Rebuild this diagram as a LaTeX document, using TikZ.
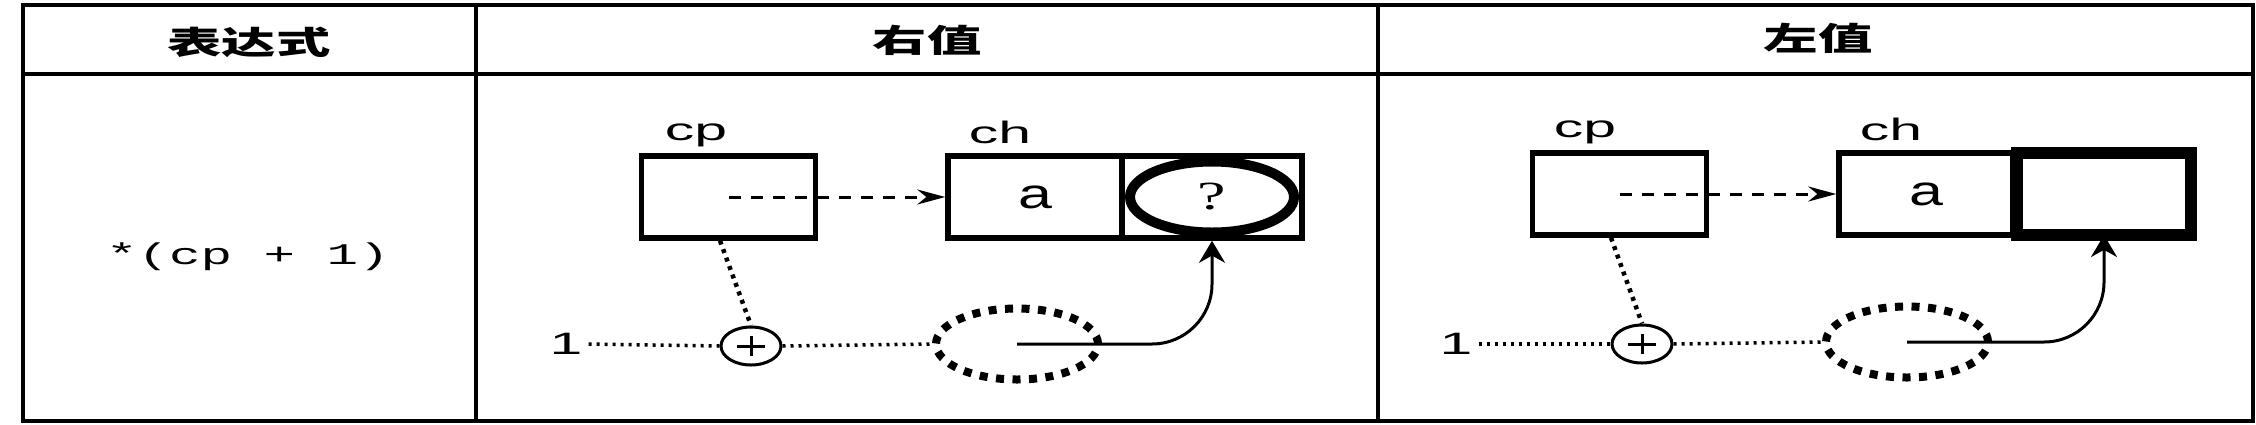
\documentclass[tikz,border=0pt]{standalone}
\usepackage{fontspec}
\usepackage{graphicx}
\usetikzlibrary{arrows.meta,shapes.geometric}
\setmainfont{Liberation Sans}
\newfontfamily\cjk{Noto Sans CJK SC}
\newfontfamily\monof{Liberation Mono}
\newfontfamily\seriff{Liberation Serif}
\newcommand{\hstretch}[2]{\scalebox{#1}[1]{#2}}
\tikzset{
  grid/.style={line width=4pt},
  hdr/.style={font=\cjk\bfseries\fontsize{32}{36}\selectfont, inner sep=0pt},
  cell/.style={draw, line width=5.5pt, minimum width=174pt, minimum height=82pt, inner sep=0pt},
  thickcell/.style={draw, line width=12pt, minimum width=174pt, minimum height=82pt, inner sep=0pt},
  lbl/.style={font=\fontsize{31}{34}\selectfont, inner sep=0pt},
  vallbl/.style={font=\fontsize{42}{46}\selectfont, inner sep=0pt},
  ptr/.style={dash pattern=on 12pt off 10pt, line width=3pt, -{Stealth[length=28pt,width=15pt]}},
  dotsline/.style={dash pattern=on 3pt off 5pt, line width=3.5pt},
  dotsbold/.style={dash pattern=on 4pt off 5pt, line width=4.5pt},
  plusnode/.style={draw, ellipse, line width=3pt, minimum width=60pt, minimum height=38pt, inner sep=0pt},
  tmpval/.style={draw, ellipse, dash pattern=on 8pt off 8.5pt, line width=8pt, minimum width=162pt, minimum height=71pt, inner sep=0pt},
  objell/.style={draw, ellipse, line width=10pt, minimum width=164pt, minimum height=71pt, inner sep=0pt,
                 font=\seriff\fontsize{40}{44}\selectfont},
  res/.style={line width=3pt, rounded corners=60pt, -{Stealth[length=22pt,width=26pt]}},
}
\begin{document}
\begin{tikzpicture}[x=1pt,y=-1pt]
\useasboundingbox (0,0) rectangle (2256,424);
% table
\draw[grid] (23,5) rectangle (2253,421);
\draw[grid] (23,74) -- (2253,74);
\draw[grid] (476,5) -- (476,421);
\draw[grid] (1378,5) -- (1378,421);
% headers
\node[hdr] (h1) at (249,42) {\hstretch{1.7}{表达式}};
\node[hdr] (h2) at (927,40) {\hstretch{1.7}{右值}};
\node[hdr] (h3) at (1818,38) {\hstretch{1.7}{左值}};
% expression
\node[inner sep=0pt, font=\monof\fontsize{30}{34}\selectfont] (expr) at (248,257) {\hstretch{1.75}{*(cp + 1)}};

% ---------- right value panel ----------
\node[cell] (cpA) at (728.5,197) {};
\node[lbl] (cplA) at (696,135) {\hstretch{1.9}{cp}};
\node[cell] (aA) at (1035,197) {};
\node[vallbl] (avA) at (aA.center) {\hstretch{1.45}{a}};
\node[cell, minimum width=180pt] (qA) at (1212,197) {};
\node[objell] (oeA) at (qA.center) {\hstretch{1.6}{?}};
\node[lbl] (chlA) at (1000,132) {\hstretch{1.9}{ch}};
\draw[ptr] (cpA.center) -- (aA.west);
\node[lbl] (oneA) at (566,344) {\hstretch{1.9}{1}};
\node[plusnode] (pA) at (751,346) {};
\draw[line width=3pt] ([xshift=-14pt]pA.center) -- ([xshift=14pt]pA.center);
\draw[line width=3pt] ([yshift=-10pt]pA.center) -- ([yshift=10pt]pA.center);
\node[tmpval] (tA) at (1017,344) {};
\draw[dotsline] ([xshift=6pt]oneA.east) -- (pA.west);
\draw[dotsline] (pA.east) -- (tA.west);
\draw[dotsbold] ([xshift=-8.5pt]cpA.south) -- (pA.north);
\draw[res] (tA.center) -| (qA.south);

% ---------- left value panel ----------
\begin{scope}[shift={(891,-3)}]
\node[cell] (cpB) at (728.5,197) {};
\node[lbl] (cplB) at (694,135) {\hstretch{1.9}{cp}};
\node[cell] (aB) at (1035,197) {};
\node[vallbl] (avB) at (aB.center) {\hstretch{1.45}{a}};
\node[thickcell] (qB) at (1213,197) {};
\node[lbl] (chlB) at (1000,132) {\hstretch{1.9}{ch}};
\draw[ptr] (cpB.center) -- (aB.west);
\node[lbl] (oneB) at (565,347) {\hstretch{1.9}{1}};
\node[plusnode] (pB) at (751,347) {};
\draw[line width=3pt] ([xshift=-14pt]pB.center) -- ([xshift=14pt]pB.center);
\draw[line width=3pt] ([yshift=-10pt]pB.center) -- ([yshift=10pt]pB.center);
\node[tmpval] (tB) at (1016,345) {};
\draw[dotsline] ([xshift=6pt]oneB.east) -- (pB.west);
\draw[dotsline] (pB.east) -- (tB.west);
\draw[dotsbold] ([xshift=-8.5pt]cpB.south) -- (pB.north);
\draw[res] (tB.center) -| ([yshift=6pt]qB.south);
\end{scope}
\end{tikzpicture}
\end{document}
